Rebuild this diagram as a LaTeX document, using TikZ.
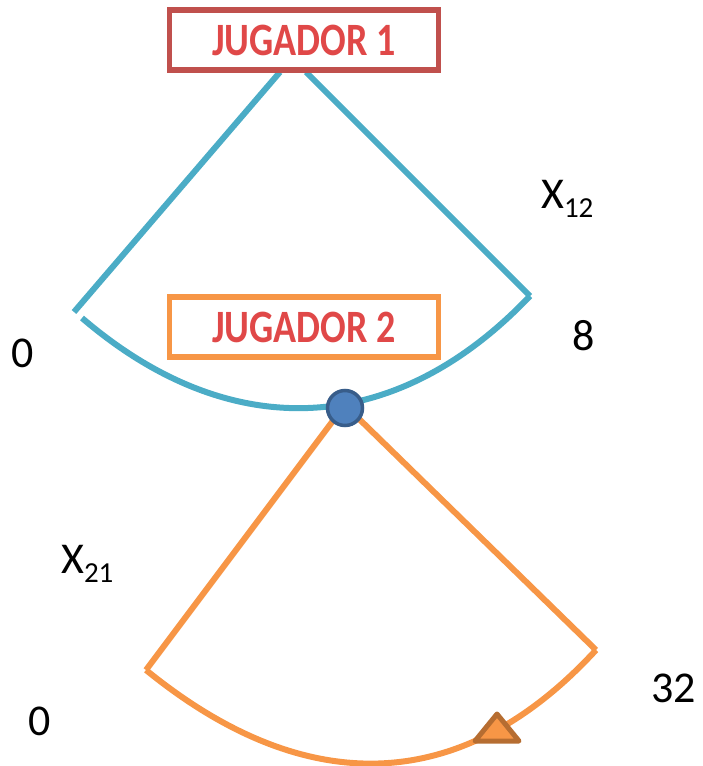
\documentclass[tikz,border=0pt]{standalone}
\usepackage{fontspec}
\setmainfont{Carlito}
\definecolor{arcblue}{HTML}{4BACC6}
\definecolor{boxred}{HTML}{C0504D}
\definecolor{arcorange}{HTML}{F79646}
\definecolor{triedge}{HTML}{B66D31}
\definecolor{dotfill}{HTML}{4F81BD}
\definecolor{dotedge}{HTML}{385D8A}
\definecolor{titlered}{HTML}{E04848}
\newcommand{\sublabel}[2]{#1\raisebox{-9pt}{\fontsize{29}{30}\selectfont #2}}
\newcommand{\tallword}[1]{\scalebox{1}[1.22]{#1}}
\begin{document}
\begin{tikzpicture}[x=1pt,y=-1pt,
  playerbox/.style={draw=#1, line width=5.5pt, fill=white,
    minimum width=269pt, minimum height=60pt, inner sep=0pt,
    text=titlered, font=\fontsize{38}{42}\selectfont\bfseries},
  blueline/.style={draw=arcblue, line width=6pt},
  orangeline/.style={draw=arcorange, line width=6pt},
  valuelabel/.style={anchor=base west, inner sep=0pt,
    font=\fontsize{44}{48}\selectfont}]
  \useasboundingbox (0,0) rectangle (702,766);

  % first player's decision fan
  \coordinate (p1l) at (280,72);
  \coordinate (p1r) at (306,72);
  \coordinate (a1l) at (74,312);
  \coordinate (a1r) at (530,296);
  \coordinate (b1l) at (82,318);
  \draw[blueline] (p1l) -- (a1l);
  \draw[blueline] (p1r) -- (a1r);
  \draw[blueline] (b1l) .. controls (230,445) and (395,438) .. (a1r);

  % second player's decision fan
  \coordinate (p2l) at (338,414);
  \coordinate (p2r) at (354,414);
  \coordinate (a2l) at (146,670);
  \coordinate (a2r) at (596,650);
  \draw[orangeline] (p2l) -- (a2l);
  \draw[orangeline] (p2r) -- (a2r);
  \draw[orangeline] (a2l) .. controls (302,797) and (459,799) .. (a2r);

  % boxes
  \node[playerbox=boxred] (j1) at (304,40) {\tallword{JUGADOR 1}};
  \node[playerbox=arcorange] (j2) at (304,327) {\tallword{JUGADOR 2}};

  % chosen point of the first player
  \node[circle, draw=dotedge, fill=dotfill, line width=3.5pt,
        minimum size=35pt, inner sep=0pt] (dot) at (345,408) {};

  % chosen point of the second player
  \draw[draw=triedge, fill=arcorange, line width=5pt, line join=round]
    (497,714) -- (519,741) -- (475,741) -- cycle;

  % values
  \node[valuelabel] (x12) at (541,208) {\sublabel{X}{12}};
  \node[valuelabel] (v8) at (572,350) {8};
  \node[valuelabel] (v0a) at (11,367) {0};
  \node[valuelabel] (x21) at (61,573) {\sublabel{X}{21}};
  \node[valuelabel] (v0b) at (28,735) {0};
  \node[valuelabel] (v32) at (651,702) {32};
\end{tikzpicture}
\end{document}
